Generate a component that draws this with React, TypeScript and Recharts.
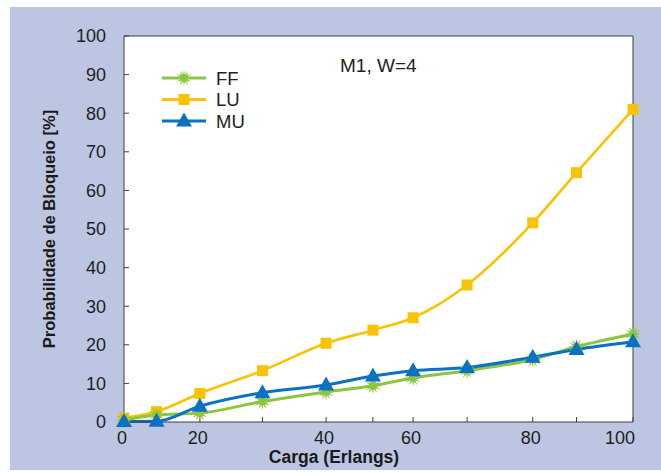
import React from 'react';
import { LineChart, Line, XAxis, YAxis, CartesianGrid, Legend } from 'recharts';

// Categories (load in Erlangs) and where they sit on the drawn x axis (0-100 span)
const cargaRotulos = ['0', '10', '20', '30', '40', '50', '60', '70', '80', '90', '100'];
const cargaX = [0, 6.4, 14.9, 27.2, 39.7, 48.9, 56.8, 67.4, 80.3, 88.9, 100];

// Series values (blocking probability, %)
const ffValores = [0.5, 1.8, 2.3, 5.3, 7.8, 9.4, 11.4, 13.3, 16.2, 19.5, 22.8];
const luValores = [1.0, 2.7, 7.4, 13.3, 20.4, 23.8, 27.0, 35.5, 51.6, 64.6, 81.0];
const muValores = [0.1, 0.2, 4.1, 7.6, 9.6, 11.9, 13.3, 14.1, 16.8, 18.8, 20.8];

// Tick values
const yTicks = [0, 10, 20, 30, 40, 50, 60, 70, 80, 90, 100];
const yTicksDireita = [0, 20, 40, 60, 80, 100];
const topoTicks = [6.5, 14.7, 23, 31.6, 39.7, 48, 56, 64.4, 72.7, 80, 88.6];
const rotulosComTexto = ['0', '20', '40', '60', '80', '100'];

const data = cargaX.map((x, i) => ({
  x,
  FF: ffValores[i],
  LU: luValores[i],
  MU: muValores[i],
}));

const GREEN = '#8CC63F';
const YELLOW = '#F8C300';
const BLUE = '#0A72C0';
const FONT = '"Liberation Sans", Arial, sans-serif';
const AXIS = '#404040';

function starPoints(cx: number, cy: number, ro: number, ri: number, n: number) {
  const pts: string[] = [];
  for (let k = 0; k < n * 2; k++) {
    const r = k % 2 === 0 ? ro : ri;
    const a = (Math.PI * k) / n - Math.PI / 2;
    pts.push(`${cx + r * Math.cos(a)},${cy + r * Math.sin(a)}`);
  }
  return pts.join(' ');
}

const Star = ({ cx, cy }: any) =>
  cx == null || cy == null ? null : (
    <polygon points={starPoints(cx, cy, 8.5, 3.6, 12)} fill={GREEN} />
  );
const Square = ({ cx, cy }: any) =>
  cx == null || cy == null ? null : (
    <rect x={cx - 5.5} y={cy - 5.5} width={11} height={11} fill={YELLOW} />
  );
const Triangle = ({ cx, cy }: any) =>
  cx == null || cy == null ? null : (
    <polygon points={`${cx},${cy - 8.5} ${cx - 8},${cy + 5.5} ${cx + 8},${cy + 5.5}`} fill={BLUE} />
  );

const BottomTick = (props: any) => {
  const { x, y, payload } = props;
  const idx = cargaX.indexOf(payload.value);
  const label = idx >= 0 ? cargaRotulos[idx] : '';
  if (!rotulosComTexto.includes(label)) return null;
  const last = idx === cargaX.length - 1;
  return (
    <text
      x={last ? x + 2 : x - 2}
      y={y}
      dy="0.71em"
      textAnchor={last ? 'end' : 'middle'}
      fontFamily={FONT}
      fontSize={18}
      fill="#1e1e1e"
    >
      {label}
    </text>
  );
};

const legendItems = [
  { name: 'FF', color: GREEN, Marker: Star },
  { name: 'LU', color: YELLOW, Marker: Square },
  { name: 'MU', color: BLUE, Marker: Triangle },
];

const LegendContent = () => (
  <svg width={90} height={70} style={{ display: 'block' }}>
    {legendItems.map((it, i) => {
      const yy = 10 + i * 21.5;
      return (
        <g key={it.name}>
          <line x1={2} x2={46} y1={yy} y2={yy} stroke={it.color} strokeWidth={3} />
          <it.Marker cx={24} cy={yy} />
          <text x={56} y={yy} dy="0.36em" fontFamily={FONT} fontSize={18.5} fill="#231F20">
            {it.name}
          </text>
        </g>
      );
    })}
  </svg>
);

export default function App() {
  return (
    <div style={{ position: 'absolute', left: 0, top: 0, width: 661, height: 472, background: '#ffffff' }}>
      <div
        style={{ position: 'absolute', left: 10, top: 7, width: 651, height: 463, background: '#BCC5E1' }}
      />
      <div style={{ position: 'absolute', left: 0, top: 0 }}>
        <LineChart
          width={661}
          height={472}
          data={data}
          margin={{ top: 26, right: 18, bottom: 20, left: 64 }}
        >
          <CartesianGrid horizontal={false} vertical={false} fill="#ffffff" />
          <XAxis
            dataKey="x"
            type="number"
            domain={[0, 100]}
            ticks={cargaX}
            interval={0}
            height={30}
            tickSize={-5}
            tickMargin={14}
            tick={<BottomTick />}
            axisLine={{ stroke: AXIS }}
            tickLine={{ stroke: AXIS }}
          />
          <XAxis
            xAxisId="top"
            orientation="top"
            type="number"
            domain={[0, 100]}
            ticks={topoTicks}
            interval={0}
            height={10}
            tickSize={-6}
            tick={false}
            axisLine={{ stroke: AXIS }}
            tickLine={{ stroke: AXIS }}
          />
          <YAxis
            type="number"
            domain={[0, 100]}
            ticks={yTicks}
            interval={0}
            width={60}
            tickSize={-5}
            tickMargin={23}
            tick={{ fontFamily: FONT, fontSize: 18, fill: '#1e1e1e' }}
            axisLine={{ stroke: AXIS }}
            tickLine={{ stroke: AXIS }}
          />
          <YAxis
            yAxisId="right"
            orientation="right"
            type="number"
            domain={[0, 100]}
            ticks={yTicksDireita}
            interval={0}
            width={10}
            tickSize={-5}
            tick={false}
            axisLine={{ stroke: AXIS }}
            tickLine={{ stroke: AXIS }}
          />
          <Legend
            layout="vertical"
            align="center"
            verticalAlign="middle"
            wrapperStyle={{ position: 'absolute', left: 160, top: 68, width: 90, height: 70 }}
            content={<LegendContent />}
          />
          <Line
            type="monotone"
            dataKey="LU"
            stroke={YELLOW}
            strokeWidth={2.6}
            isAnimationActive={false}
            activeDot={false}
            dot={(p: any) => <Square key={`lu${p.index}`} cx={p.cx} cy={p.cy} />}
          />
          <Line
            type="monotone"
            dataKey="FF"
            stroke={GREEN}
            strokeWidth={3}
            isAnimationActive={false}
            activeDot={false}
            dot={(p: any) => <Star key={`ff${p.index}`} cx={p.cx} cy={p.cy} />}
          />
          <Line
            type="monotone"
            dataKey="MU"
            stroke={BLUE}
            strokeWidth={3}
            isAnimationActive={false}
            activeDot={false}
            dot={(p: any) => <Triangle key={`mu${p.index}`} cx={p.cx} cy={p.cy} />}
          />
          <text x={340} y={72} fontFamily={FONT} fontSize={19} fill="#231F20">
            M1, W=4
          </text>
          <text
            x={334}
            y={463}
            textAnchor="middle"
            fontFamily={FONT}
            fontSize={17.5}
            fontWeight="bold"
            fill="#1a1a1a"
          >
            Carga (Erlangs)
          </text>
          <text
            x={55}
            y={229}
            textAnchor="middle"
            transform="rotate(-90 55 229)"
            fontFamily={FONT}
            fontSize={16.5}
            fontWeight="bold"
            fill="#1a1a1a"
          >
            Probabilidade de Bloqueio [%]
          </text>
        </LineChart>
      </div>
    </div>
  );
}
